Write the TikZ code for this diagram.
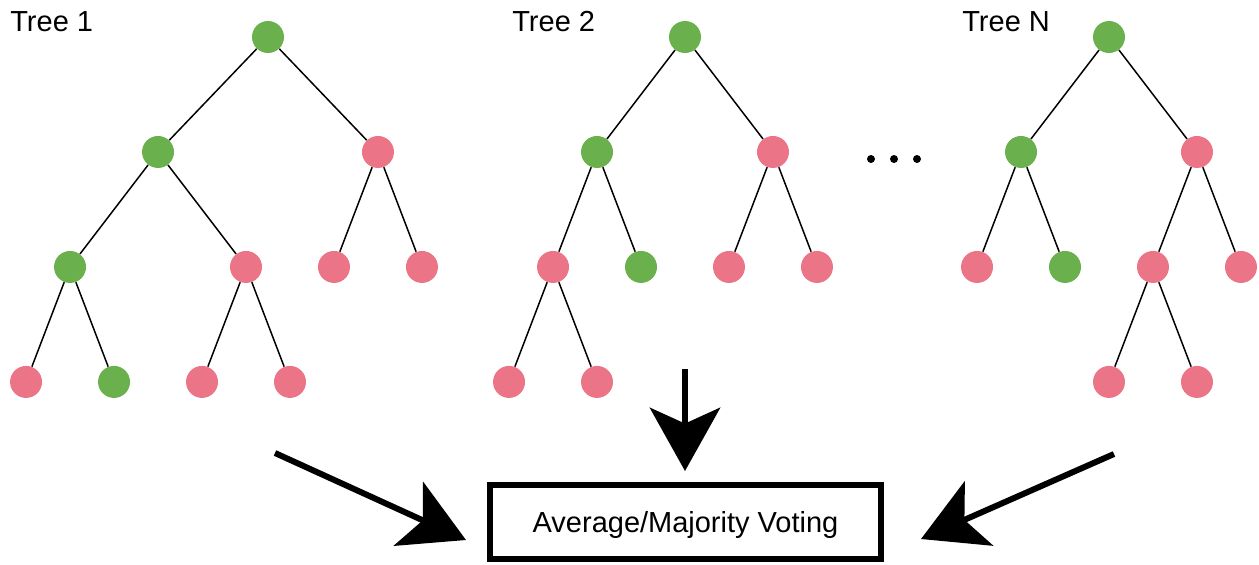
\documentclass[tikz,border=0pt]{standalone}
\usepackage{fontspec}
\setmainfont{Liberation Sans}
\usetikzlibrary{trees,arrows.meta}
\definecolor{leafgreen}{RGB}{106,176,76}
\definecolor{leafred}{RGB}{236,116,135}
\tikzset{
	gnode/.style={circle,fill=leafgreen,minimum size=0.64cm,inner sep=0pt},
	rnode/.style={circle,fill=leafred,minimum size=0.64cm,inner sep=0pt},
	dotnode/.style={circle,fill=black,minimum size=0.16cm,inner sep=0pt},
	treelabel/.style={anchor=west,inner sep=0pt,font=\fontsize{16.5}{20}\selectfont},
	bigarrow/.style={line width=3.4pt,-{Stealth[length=36pt,width=40pt,inset=9pt]}}
}

\begin{document}
\begin{tikzpicture}[x=0.02cm,y=-0.02cm,level distance=2.3cm,
	edge from parent/.style={draw,line width=0.85pt},
	level 1/.style={sibling distance=3.52cm},
	level 2/.style={sibling distance=1.76cm},
	level 3/.style={sibling distance=1.76cm}]
\useasboundingbox (0,0) rectangle (1259,565);

\node[treelabel] (lab1) at (10,22) {Tree 1};
\node[treelabel] (lab2) at (512,22) {Tree 2};
\node[treelabel] (labn) at (962,22) {Tree N};

\node[gnode] (t1) at (268,37) {}
	child[sibling distance=4.4cm] {node[gnode] (t1a) {}
		child[sibling distance=3.52cm] {node[gnode] (t1aa) {}
			child {node[rnode] (t1aaa) {}}
			child {node[gnode] (t1aab) {}}}
		child[sibling distance=3.52cm] {node[rnode] (t1ab) {}
			child {node[rnode] (t1aba) {}}
			child {node[rnode] (t1abb) {}}}}
	child[sibling distance=4.4cm] {node[rnode] (t1b) {}
		child {node[rnode] (t1ba) {}}
		child {node[rnode] (t1bb) {}}};

\node[gnode] (t2) at (685,37) {}
	child {node[gnode] (t2a) {}
		child {node[rnode] (t2aa) {}
			child {node[rnode] (t2aaa) {}}
			child {node[rnode] (t2aab) {}}}
		child {node[gnode] (t2ab) {}}}
	child {node[rnode] (t2b) {}
		child {node[rnode] (t2ba) {}}
		child {node[rnode] (t2bb) {}}};

\node[gnode] (tn) at (1109,37) {}
	child {node[gnode] (tna) {}
		child {node[rnode] (tnaa) {}}
		child {node[gnode] (tnab) {}}}
	child {node[rnode] (tnb) {}
		child {node[rnode] (tnba) {}
			child {node[rnode] (tnbaa) {}}
			child {node[rnode] (tnbab) {}}}
		child {node[rnode] (tnbb) {}}};

\node[dotnode] (d1) at (871,159) {};
\node[dotnode] (d2) at (894,159) {};
\node[dotnode] (d3) at (917,159) {};

\node[draw,line width=3.4pt,minimum width=7.82cm,minimum height=1.48cm,
	text height=12pt,text depth=0pt,
	font=\fontsize{16.5}{20}\selectfont] (vote) at (685.5,522) {Average/Majority Voting};

\coordinate (s1) at (275,453);
\coordinate (e1) at (466,540);
\coordinate (s2) at (685,369);
\coordinate (e2) at (685,471);
\coordinate (s3) at (1114,454);
\coordinate (e3) at (921,539);
\draw[bigarrow] (s1) -- (e1);
\draw[bigarrow] (s2) -- (e2);
\draw[bigarrow] (s3) -- (e3);
\end{tikzpicture}
\end{document}
